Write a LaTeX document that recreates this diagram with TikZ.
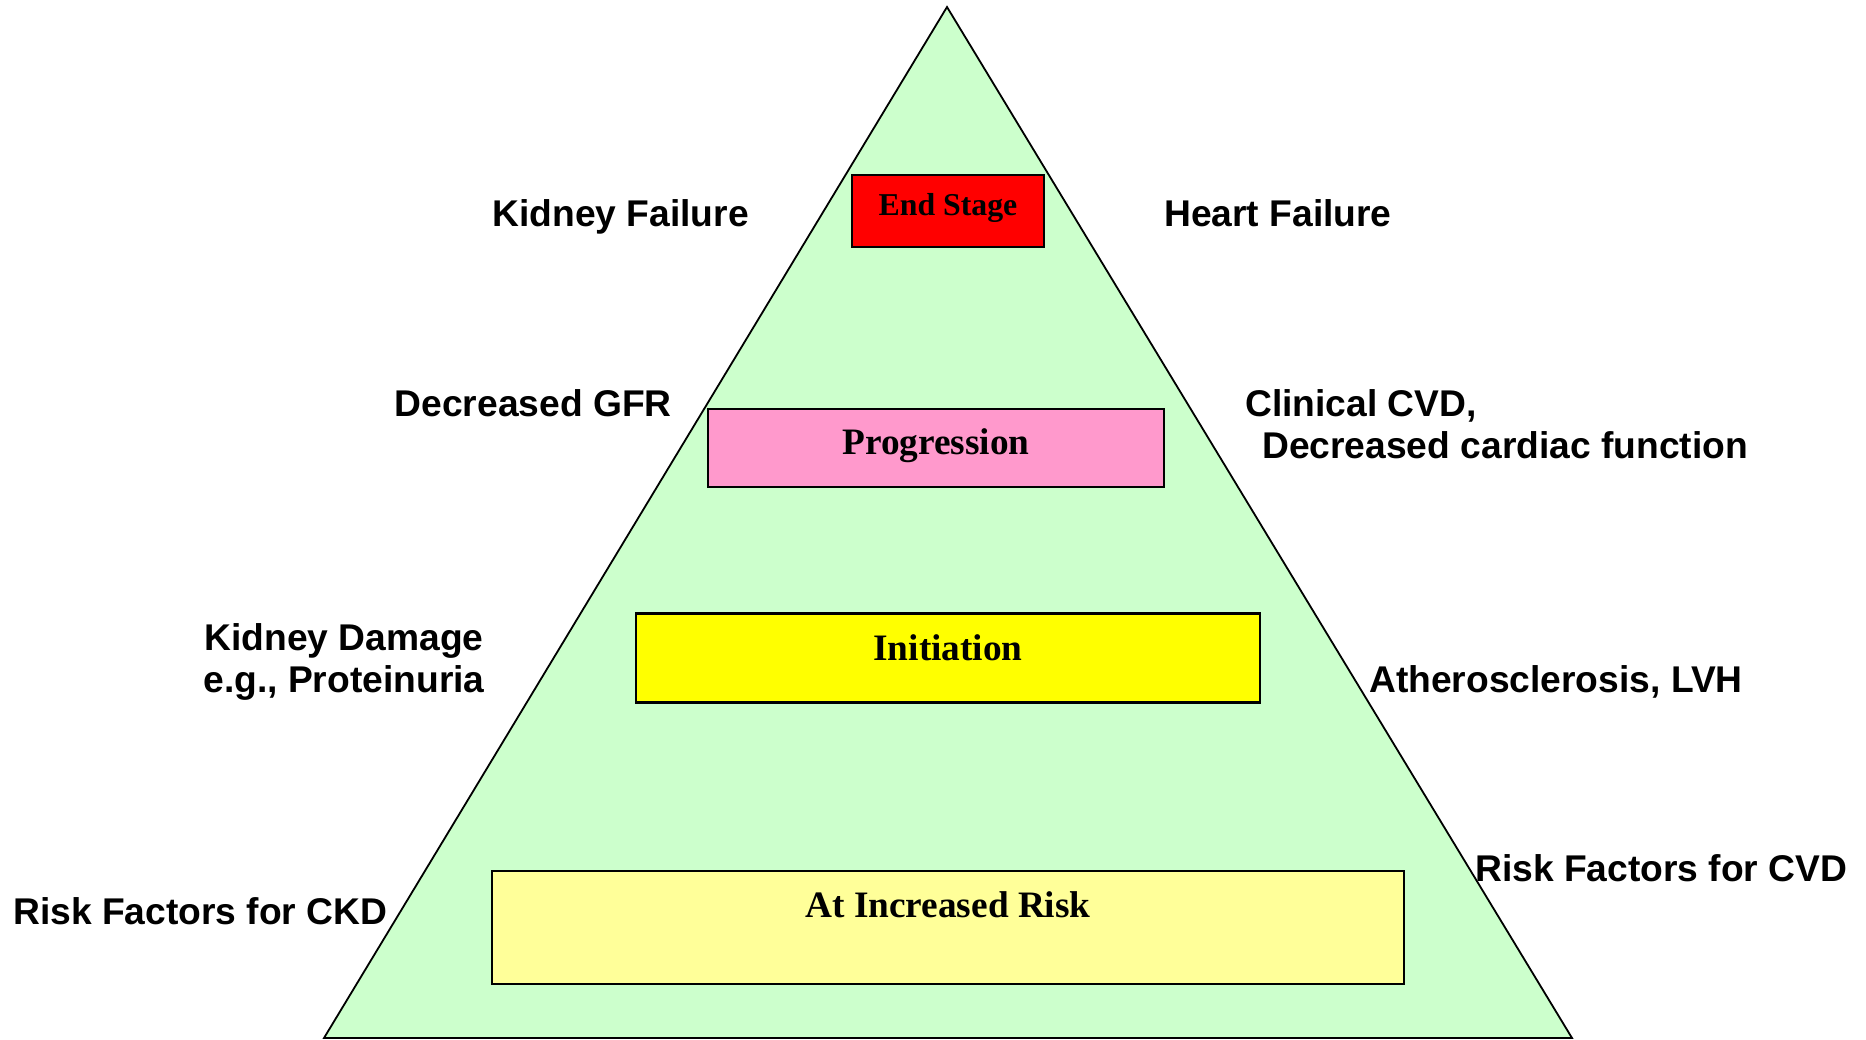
\documentclass[tikz,border=0pt]{standalone}
\usepackage{fontspec}
\setmainfont{Liberation Serif}
\newfontfamily\arialfont{Liberation Sans}
\usetikzlibrary{calc}
\definecolor{pyrgreen}{HTML}{CCFFCC}
\definecolor{endred}{HTML}{FF0000}
\definecolor{progpink}{HTML}{FF99CC}
\definecolor{inityellow}{HTML}{FFFF00}
\definecolor{risklight}{HTML}{FFFF99}
\tikzset{
  stagebox/.style={draw=black, line width=2.5pt, inner sep=0pt, rectangle},
  stagetext/.style={font=\bfseries\fontsize{37.3}{44}\selectfont, inner sep=0pt, anchor=base},
  sidetext/.style={font=\arialfont\bfseries\fontsize{37.2}{42}\selectfont, inner sep=0pt},
}
\begin{document}
\begin{tikzpicture}[x=1pt,y=-1pt]
\useasboundingbox (0,0) rectangle (1866,1039);
% pyramid
\coordinate (apex) at (947,7);
\coordinate (bl) at (324,1038);
\coordinate (br) at (1572,1038);
\draw[fill=pyrgreen, line width=1.8pt, line join=miter] (apex) -- (bl) -- (br) -- cycle;
% stage boxes
\node[stagebox, fill=endred, minimum width=192pt, minimum height=72pt] (endst) at (948,211) {};
\node[stagebox, fill=progpink, minimum width=456pt, minimum height=78pt] (prog) at (936,448) {};
\node[stagebox, fill=inityellow, minimum width=624pt, minimum height=89pt] (init) at (948,658) {};
\node[stagebox, fill=risklight, minimum width=912pt, minimum height=113pt] (risk) at (948,927.5) {};
% stage texts
\node[stagetext, font=\bfseries\fontsize{31.8}{38}\selectfont] (endsttext) at ($(endst.north)+(0,42)$) {End Stage};
\node[stagetext] (progtext) at ($(prog.north)+(0,47)$) {Progression};
\node[stagetext] (inittext) at ($(init.north)+(0,48)$) {Initiation};
\node[stagetext] (risktext) at ($(risk.north)+(0,48)$) {At Increased Risk};
% left labels
\node[sidetext, anchor=base east] (kf) at (749,226) {Kidney Failure};
\node[sidetext, anchor=base east] (gfr) at (672,416) {Decreased GFR};
\node[sidetext, anchor=base, align=center] (kd) at (344,692) {Kidney Damage\\e.g., Proteinuria};
\node[sidetext, anchor=base west] (rfckd) at (13,924) {Risk Factors for CKD};
% right labels
\node[sidetext, anchor=base west] (hf) at (1164,226) {Heart Failure};
\node[sidetext, anchor=base west, align=left] (ccvd) at (1245,458) {Clinical CVD,\\\hspace*{17pt}Decreased cardiac function};
\node[sidetext, anchor=base west] (ath) at (1369,692) {Atherosclerosis, LVH};
\node[sidetext, anchor=base west] (rfcvd) at (1475,881) {Risk Factors for CVD};
\end{tikzpicture}
\end{document}
